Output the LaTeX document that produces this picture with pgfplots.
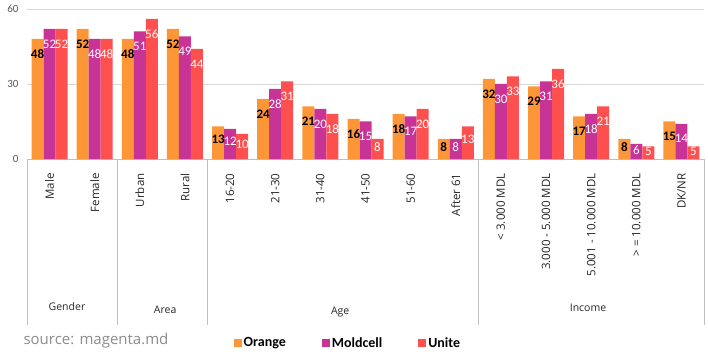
\documentclass[border=0pt]{standalone}
\usepackage{fontspec}
\setmainfont{Carlito}
\newfontfamily\osans{Open Sans}
\usepackage{pgfplots}
\pgfplotsset{compat=1.18}
\usepackage{pgfplotstable}
\definecolor{cOrange}{RGB}{253,150,55}
\definecolor{cMold}{RGB}{200,52,150}
\definecolor{cUnite}{RGB}{255,80,80}
\definecolor{gridc}{RGB}{217,217,217}
\definecolor{sepc}{RGB}{191,191,191}
\definecolor{txtc}{RGB}{38,38,38}
\definecolor{tickc}{RGB}{89,89,89}
\definecolor{srcc}{RGB}{140,140,140}

\pgfplotstableread{
x orange moldcell unite
0 48 52 52
1 52 48 48
2 48 51 56
3 52 49 44
4 13 12 10
5 24 28 31
6 21 20 18
7 16 15 8
8 18 17 20
9 8 8 13
10 32 30 33
11 29 31 36
12 17 18 21
13 8 6 5
14 15 14 5
}\datatable

\begin{document}
\begin{tikzpicture}
\useasboundingbox (0,0) rectangle (708pt,353pt);
\begin{axis}[
  at={(27pt,194pt)}, anchor=south west,
  scale only axis, width=677pt, height=150pt,
  xmin=-0.5, xmax=14.5, ymin=0, ymax=60,
  ybar=0pt, bar width=12pt,
  axis x line*=bottom, axis y line*=left,
  y axis line style={draw=none},
  x axis line style={draw=sepc, -},
  major tick length=0pt,
  ytick={0,30,60},
  ymajorgrids, grid style={gridc},
  xtick={0,...,14},
  xticklabels={Male,Female,Urban,Rural,16-20,21-30,31-40,41-50,51-60,After 61,{< 3.000 MDL},{3.000 - 5.000 MDL},{5.001 - 10.000 MDL},{> = 10.000 MDL},DK/NR},
  xticklabel style={rotate=90, anchor=east, text=txtc, font=\osans\fontsize{11.5}{13}\selectfont},
  xticklabel shift=11pt,
  yticklabel style={text=tickc, font=\fontsize{11}{13}\selectfont, xshift=-5pt},
  /pgf/number format/assume math mode=true,
  clip=false,
  nodes near coords,
  visualization depends on=rawy \as \rawy,
  every node near coord/.append style={anchor=center, yshift={-min(15,\rawy)}, font=\fontsize{13}{15}\selectfont},
  legend columns=3,
  legend style={at={(0.474,-1.227)}, anchor=center, draw=none, fill=none,
    font=\bfseries\fontsize{14}{16}\selectfont,
    /tikz/every even column/.append style={column sep=34pt}},
  legend image code/.code={\fill[#1] (2pt,-4pt) rectangle (10pt,4pt);},
]
\addplot[fill=cOrange, draw=none, every node near coord/.append style={text=black, font=\bfseries\fontsize{13}{15}\selectfont}] table[x=x, y=orange] {\datatable};
\addplot[fill=cMold, draw=none, every node near coord/.append style={text=white}] table[x=x, y=moldcell] {\datatable};
\addplot[fill=cUnite, draw=none, every node near coord/.append style={text=white}] table[x=x, y=unite] {\datatable};
\legend{Orange, Moldcell, Unite}
\draw[sepc] (axis cs:-0.5,0) -- ([yshift=-166pt]axis cs:-0.5,0);
\draw[sepc] (axis cs:1.5,0) -- ([yshift=-166pt]axis cs:1.5,0);
\draw[sepc] (axis cs:3.5,0) -- ([yshift=-166pt]axis cs:3.5,0);
\draw[sepc] (axis cs:9.5,0) -- ([yshift=-166pt]axis cs:9.5,0);
\draw[sepc] (axis cs:14.5,0) -- ([yshift=-166pt]axis cs:14.5,0);
\node[text=txtc, font=\osans\fontsize{10.5}{12}\selectfont, yshift=-148pt] at (axis cs:0.386,0) {Gender};
\node[text=txtc, font=\osans\fontsize{10.5}{12}\selectfont, yshift=-151pt] at (axis cs:2.56,0) {Area};
\node[text=txtc, font=\osans\fontsize{10.5}{12}\selectfont, yshift=-153pt] at (axis cs:6.44,0) {Age};
\node[text=txtc, font=\osans\fontsize{10.5}{12}\selectfont, yshift=-149pt] at (axis cs:11.93,0) {Income};
\end{axis}
\node[anchor=west, text=srcc, font=\osans\fontsize{15}{18}\selectfont] at (20pt,12pt) {source: magenta.md};
\end{tikzpicture}
\end{document}
